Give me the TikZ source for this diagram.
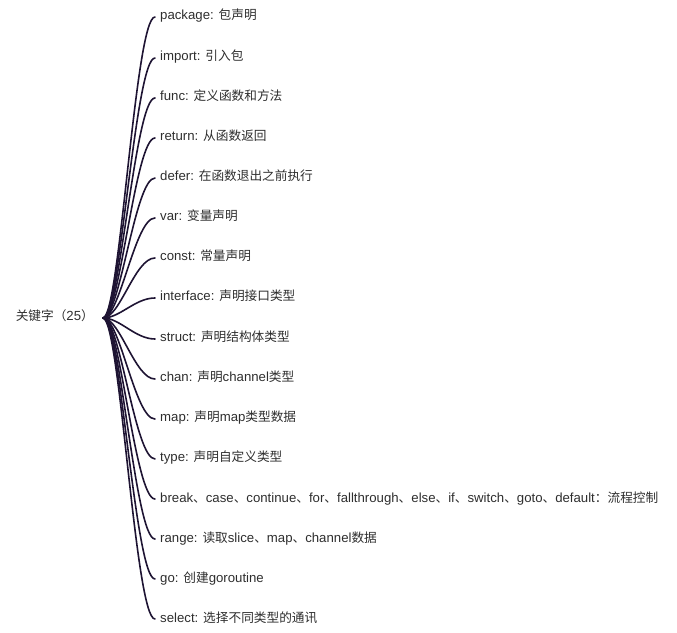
\documentclass[tikz,border=0pt]{standalone}
\usepackage{fontspec}
\setmainfont{Liberation Sans}
\newfontfamily\cjk[Scale=0.96]{Noto Sans CJK SC}
\usepackage{tikz}
\usetikzlibrary{positioning}
\definecolor{ink}{HTML}{1E1433}
\definecolor{txt}{HTML}{2E2E2E}
\newcommand{\zh}[1]{{\cjk #1}}

\begin{document}
\begin{tikzpicture}[
  x=1pt, y=1pt,
  leaf/.style={anchor=west, inner xsep=5pt, inner ysep=0pt, text height=8pt, text depth=2pt, font=\fontsize{13.2}{15}\selectfont, text=txt},
  root/.style={anchor=east, inner sep=0pt, text height=8pt, text depth=2pt, font=\fontsize{13.2}{15}\selectfont, text=txt},
  link/.style={draw=ink, line width=1.6pt, line cap=round}
]
\useasboundingbox (0,0) rectangle (677,632);
\node[root] (kw) at (94,314) {\zh{关键字（}25\zh{）}};
\coordinate (hub) at (103,314);
\node[leaf] (k1) at (155,615) {package: \zh{包声明}};
\node[leaf] (k2) at (155,574) {import: \zh{引入包}};
\node[leaf] (k3) at (155,534) {func: \zh{定义函数和方法}};
\node[leaf] (k4) at (155,494) {return: \zh{从函数返回}};
\node[leaf] (k5) at (155,454) {defer: \zh{在函数退出之前执行}};
\node[leaf] (k6) at (155,414) {var: \zh{变量声明}};
\node[leaf] (k7) at (155,374) {const: \zh{常量声明}};
\node[leaf] (k8) at (155,334) {interface: \zh{声明接口类型}};
\node[leaf] (k9) at (155,293) {struct: \zh{声明结构体类型}};
\node[leaf] (k10) at (155,253) {chan: \zh{声明}channel\zh{类型}};
\node[leaf] (k11) at (155,213) {map: \zh{声明}map\zh{类型数据}};
\node[leaf] (k12) at (155,173) {type: \zh{声明自定义类型}};
\node[leaf] (k13) at (155,133) {break\zh{、}case\zh{、}continue\zh{、}for\zh{、}fallthrough\zh{、}else\zh{、}if\zh{、}switch\zh{、}goto\zh{、}default\zh{：流程控制}};
\node[leaf] (k14) at (155,93) {range: \zh{读取}slice\zh{、}map\zh{、}channel\zh{数据}};
\node[leaf] (k15) at (155,53) {go: \zh{创建}goroutine};
\node[leaf] (k16) at (155,13) {select: \zh{选择不同类型的通讯}};
\draw[link] (hub) .. controls +(17,0) and +(-20,0) .. (k1.west);
\draw[link] (hub) .. controls +(17,0) and +(-20,0) .. (k2.west);
\draw[link] (hub) .. controls +(17,0) and +(-20,0) .. (k3.west);
\draw[link] (hub) .. controls +(17,0) and +(-20,0) .. (k4.west);
\draw[link] (hub) .. controls +(17,0) and +(-20,0) .. (k5.west);
\draw[link] (hub) .. controls +(17,0) and +(-20,0) .. (k6.west);
\draw[link] (hub) .. controls +(17,0) and +(-20,0) .. (k7.west);
\draw[link] (hub) .. controls +(17,0) and +(-20,0) .. (k8.west);
\draw[link] (hub) .. controls +(17,0) and +(-20,0) .. (k9.west);
\draw[link] (hub) .. controls +(17,0) and +(-20,0) .. (k10.west);
\draw[link] (hub) .. controls +(17,0) and +(-20,0) .. (k11.west);
\draw[link] (hub) .. controls +(17,0) and +(-20,0) .. (k12.west);
\draw[link] (hub) .. controls +(17,0) and +(-20,0) .. (k13.west);
\draw[link] (hub) .. controls +(17,0) and +(-20,0) .. (k14.west);
\draw[link] (hub) .. controls +(17,0) and +(-20,0) .. (k15.west);
\draw[link] (hub) .. controls +(17,0) and +(-20,0) .. (k16.west);
\end{tikzpicture}
\end{document}
